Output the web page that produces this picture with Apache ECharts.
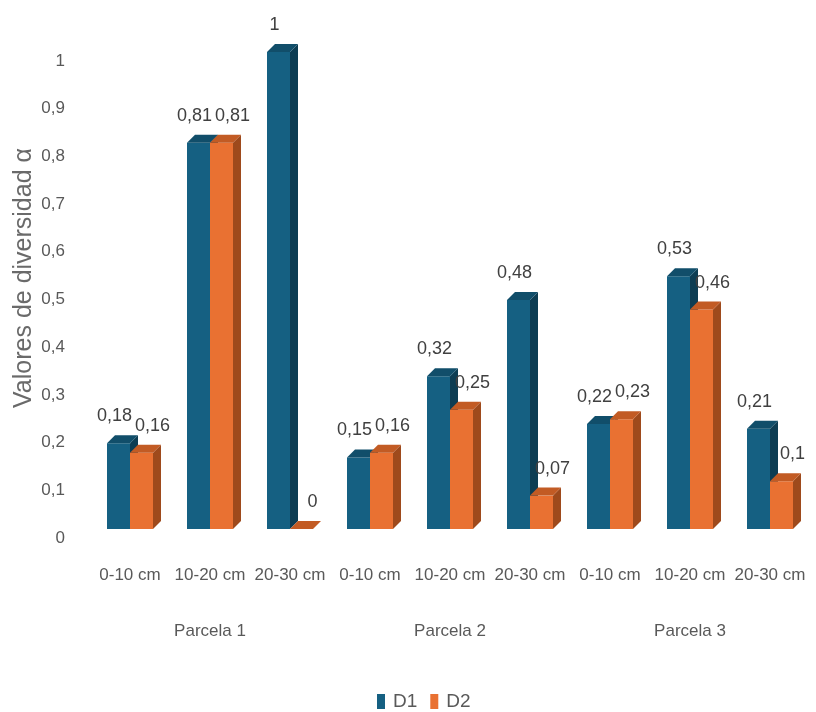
<!DOCTYPE html>
<html>
<head>
<meta charset="utf-8">
<script src="https://cdn.jsdelivr.net/npm/echarts@6/dist/echarts.min.js"></script>
<style>
html,body{margin:0;padding:0;background:#fff;}
#chart{width:816px;height:712px;}
</style>
</head>
<body>
<div id="chart"></div>
<script>
// ---- data ----
var categories = ['0-10 cm','10-20 cm','20-30 cm','0-10 cm','10-20 cm','20-30 cm','0-10 cm','10-20 cm','20-30 cm'];
var parcelas = ['Parcela 1','Parcela 2','Parcela 3'];
var d1 = [0.18, 0.81, 1, 0.15, 0.32, 0.48, 0.22, 0.53, 0.21];
var d2 = [0.16, 0.81, 0, 0.16, 0.25, 0.07, 0.23, 0.46, 0.1];
var yTicks = [0,0.1,0.2,0.3,0.4,0.5,0.6,0.7,0.8,0.9,1];

var FONT = "'Liberation Sans',Arial,sans-serif";
var LABEL_COLOR = '#595959';
var palettes = [
  {front:'#156082', top:'#114E6A', side:'#0D3D53'},
  {front:'#E97132', top:'#C25B24', side:'#9E4A1C'}
];

function fmt(v){ return String(+Number(v).toFixed(2)).replace('.', ','); }

function makeRender(si){
  var pal = palettes[si];
  return function(params, api){
    var ci = api.value(0), v = api.value(1);
    var base = api.coord([ci, 0]);
    var top = api.coord([ci, v]);
    var cw = api.size([1, 0])[0];
    var bw = cw * 0.2875;
    var x0 = base[0] - bw + si * bw;
    var x1 = x0 + bw;
    var yb = base[1], yt = top[1];
    var dx = 8, dy = 8;
    var lx = (x0 + x1) / 2 + (si === 0 ? -4 : 11);
    return {
      type: 'group',
      children: [
        {type:'polygon', shape:{points:[[x1,yb],[x1+dx,yb-dy],[x1+dx,yt-dy],[x1,yt]]}, style:{fill:pal.side}},
        {type:'rect', shape:{x:x0, y:yt, width:bw, height:yb-yt}, style:{fill:pal.front}},
        {type:'polygon', shape:{points:[[x0,yt],[x1,yt],[x1+dx,yt-dy],[x0+dx,yt-dy]]}, style:{fill:pal.top}},
        {type:'text', z2:100, style:{text:fmt(v), x:lx, y:yt-27, align:'center', verticalAlign:'middle',
          font:'18px ' + FONT, fill:'#404040'}}
      ]
    };
  };
}

var chart = echarts.init(document.getElementById('chart'), null, {renderer:'canvas'});
chart.setOption({
  animation: false,
  backgroundColor: '#fff',
  grid: [
    {left:90, right:6, top:52, bottom:183},
    {left:90, right:6, top:61, bottom:174}
  ],
  xAxis: [
    {type:'category', gridIndex:0, data:categories, axisLine:{show:false}, axisTick:{show:false},
     axisLabel:{margin:38, fontSize:17, fontFamily:FONT, color:LABEL_COLOR, interval:0}},
    {type:'category', gridIndex:0, data:parcelas, position:'bottom', axisLine:{show:false}, axisTick:{show:false},
     axisLabel:{margin:94, fontSize:17, fontFamily:FONT, color:LABEL_COLOR, interval:0}},
    {type:'value', gridIndex:1, show:false, min:0, max:1}
  ],
  yAxis: [
    {type:'value', gridIndex:0, min:0, max:1, show:false},
    {type:'value', gridIndex:1, min:0, max:1, interval:0.1,
     axisLine:{show:false}, axisTick:{show:false}, splitLine:{show:false},
     axisLabel:{margin:25, fontSize:17, fontFamily:FONT, color:LABEL_COLOR,
       formatter:function(v){ return fmt(v); }}}
  ],
  legend: {
    left: 377, top: 692, padding: 0, itemWidth: 8, itemHeight: 15, itemGap: 13, icon: 'rect',
    textStyle: {fontSize: 19, fontFamily: FONT, color: LABEL_COLOR, padding:[0,0,0,3]},
    data: ['D1','D2']
  },
  graphic: [
    {type:'text', x:24, y:278, rotation:Math.PI/2,
     style:{text:'Valores de diversidad α', font:'25px ' + FONT, fill:'#6a6a6a',
       align:'center', verticalAlign:'middle'}}
  ],
  series: [
    {name:'D1', type:'custom', xAxisIndex:0, yAxisIndex:0, renderItem:makeRender(0),
     itemStyle:{color:palettes[0].front}, encode:{x:0, y:1},
     data: d1.map(function(v,i){ return [i, v]; })},
    {name:'D2', type:'custom', xAxisIndex:0, yAxisIndex:0, renderItem:makeRender(1),
     itemStyle:{color:palettes[1].front}, encode:{x:0, y:1},
     data: d2.map(function(v,i){ return [i, v]; })}
  ]
});
</script>
</body>
</html>
